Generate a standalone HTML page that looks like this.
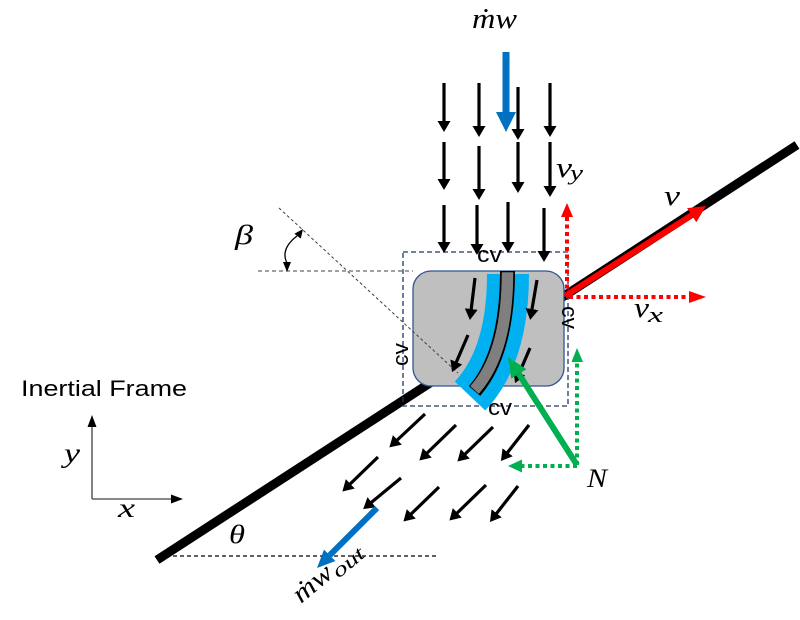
<!DOCTYPE html>
<html>
<head>
<meta charset="utf-8">
<style>
  html, body { margin: 0; padding: 0; background: #ffffff; }
  svg { display: block; }
  .m { font-family: "Liberation Serif", "DejaVu Serif", serif; font-style: italic; fill: #000; }
  .s { font-family: "Liberation Sans", "DejaVu Sans", sans-serif; fill: #000; }
</style>
</head>
<body>
<svg width="800" height="620" viewBox="0 0 800 620" xmlns="http://www.w3.org/2000/svg">
  <defs>
    <marker id="ah" markerUnits="userSpaceOnUse" markerWidth="12" markerHeight="14" refX="6" refY="6.5" orient="auto">
      <path d="M0,0 L11,6.5 L0,13 z" fill="#000"/>
    </marker>
  </defs>

  <!-- incline line -->
  <line x1="157" y1="560" x2="797" y2="145" stroke="#000" stroke-width="9"/>

  <!-- CV dashed box -->
  <rect x="403" y="252" width="165" height="154" fill="none" stroke="#203864" stroke-width="1.3" stroke-dasharray="5 3"/>

  <!-- gray box -->
  <rect x="413" y="271" width="151" height="115" rx="18" ry="18" fill="#bfbfbf" stroke="#2f5597" stroke-width="1.3"/>

  <!-- reference dashed lines -->
  <line x1="258" y1="271" x2="413" y2="271" stroke="#404040" stroke-width="1" stroke-dasharray="4 3"/>
  <line x1="279" y1="208" x2="458" y2="373" stroke="#404040" stroke-width="1" stroke-dasharray="3 2.5"/>
  <line x1="173" y1="556" x2="437" y2="556" stroke="#000" stroke-width="1.2" stroke-dasharray="4 3"/>

  <!-- beta arc -->
  <path d="M297,236 Q280,249 287,263" fill="none" stroke="#000" stroke-width="1.3"/>
  <polygon points="283,262 291,262 287,272" fill="#000"/>
  <polygon points="303,229 300.8,238.6 294.4,233.8" fill="#000"/>

  <!-- blue band and gray strip -->
  <path d="M508,274 Q508,356 470,396" fill="none" stroke="#00b0f0" stroke-width="42"/>
  <path d="M507.5,271 Q507.5,353 474.5,391" fill="none" stroke="#000" stroke-width="15"/>
  <path d="M507.5,272.2 Q507.5,353 474.5,390" fill="none" stroke="#7f7f7f" stroke-width="11.5"/>

  <!-- vertical incoming arrows -->
  <g stroke="#000" stroke-width="3.2" marker-end="url(#ah)">
    <line x1="444" y1="83" x2="444" y2="127"/>
    <line x1="479" y1="83" x2="479" y2="132"/>
    <line x1="518" y1="87" x2="518" y2="135"/>
    <line x1="550" y1="83" x2="550" y2="132"/>
    <line x1="444" y1="142" x2="444" y2="185"/>
    <line x1="479" y1="146" x2="479" y2="195"/>
    <line x1="518" y1="142" x2="518" y2="188"/>
    <line x1="550" y1="142" x2="550" y2="192"/>
    <line x1="444" y1="205" x2="444" y2="248"/>
    <line x1="477" y1="205" x2="477" y2="250"/>
    <line x1="508" y1="202" x2="508" y2="248"/>
    <line x1="544" y1="208" x2="544" y2="257"/>
    <!-- inner arrows -->
    <line x1="475" y1="278" x2="470.5" y2="315"/>
    <line x1="468" y1="335" x2="454" y2="367.5"/>
    <line x1="537" y1="280" x2="531" y2="315"/>
    <line x1="530" y1="348" x2="517" y2="378.5"/>
    <!-- outflow arrows -->
    <line x1="425" y1="414" x2="393" y2="444"/>
    <line x1="456" y1="425" x2="423" y2="457"/>
    <line x1="493" y1="427" x2="461" y2="458"/>
    <line x1="529" y1="425" x2="504" y2="457"/>
    <line x1="378" y1="457" x2="346" y2="488"/>
    <line x1="401" y1="478" x2="367" y2="506"/>
    <line x1="439" y1="487" x2="407" y2="518"/>
    <line x1="486" y1="485" x2="453" y2="517"/>
    <line x1="518" y1="486" x2="493" y2="518"/>
  </g>

  <!-- big blue inflow arrow -->
  <rect x="502.5" y="52" width="7" height="61" fill="#0070c0"/>
  <polygon points="496,112 516,112 506,132" fill="#0070c0"/>

  <!-- blue outflow arrow -->
  <line x1="377" y1="508" x2="329.7" y2="555.3" stroke="#0070c0" stroke-width="6"/>
  <polygon points="335.4,561 324,549.6 317,568" fill="#0070c0"/>

  <!-- red dotted components -->
  <line x1="567" y1="296" x2="567" y2="216" stroke="#ff0000" stroke-width="4" stroke-dasharray="4 3.5"/>
  <polygon points="561,217 573,217 567,203" fill="#ff0000"/>
  <line x1="569" y1="297" x2="690" y2="297" stroke="#ff0000" stroke-width="4" stroke-dasharray="4 3.5"/>
  <polygon points="689,291 689,303 706,297" fill="#ff0000"/>

  <!-- red velocity arrow -->
  <line x1="565" y1="296" x2="691.7" y2="215.2" stroke="#ff0000" stroke-width="6"/>
  <polygon points="696.3,222.3 687.1,208.1 706,206" fill="#ff0000"/>

  <!-- green dotted components -->
  <line x1="577" y1="465" x2="577" y2="361" stroke="#00b050" stroke-width="4" stroke-dasharray="4 3.5"/>
  <polygon points="571.5,362 583,362 577,348" fill="#00b050"/>
  <line x1="577" y1="466" x2="521" y2="466" stroke="#00b050" stroke-width="4" stroke-dasharray="4 3.5"/>
  <polygon points="522,459.5 522,472.5 508,466" fill="#00b050"/>

  <!-- green normal force -->
  <line x1="577" y1="465" x2="518.8" y2="373.9" stroke="#00b050" stroke-width="6"/>
  <polygon points="526.4,369.1 511.2,378.8 508,357" fill="#00b050"/>

  <!-- inertial frame axes -->
  <line x1="92" y1="499" x2="92" y2="425" stroke="#404040" stroke-width="1.3"/>
  <polygon points="87.5,427 96.5,427 92,415" fill="#000"/>
  <line x1="92" y1="499" x2="172" y2="499" stroke="#404040" stroke-width="1.3"/>
  <polygon points="171,494.5 171,503.5 183,499" fill="#000"/>

  <!-- text labels -->
  <text class="s" x="21" y="396" font-size="22" textLength="166" lengthAdjust="spacingAndGlyphs">Inertial Frame</text>
  <text class="m" x="64" y="462" font-size="27" textLength="16" lengthAdjust="spacingAndGlyphs">y</text>
  <text class="m" x="118" y="517" font-size="27" textLength="17" lengthAdjust="spacingAndGlyphs">x</text>

  <text class="m" x="472" y="28" font-size="28" textLength="45" lengthAdjust="spacingAndGlyphs">ṁw</text>

  <text class="m" x="556" y="177" font-size="28" textLength="16" lengthAdjust="spacingAndGlyphs">v</text>
  <text class="m" x="570" y="180" font-size="22" textLength="13" lengthAdjust="spacingAndGlyphs">y</text>

  <text class="m" x="664" y="205" font-size="28" textLength="16" lengthAdjust="spacingAndGlyphs">v</text>

  <text class="m" x="634" y="317" font-size="28" textLength="15" lengthAdjust="spacingAndGlyphs">v</text>
  <text class="m" x="648" y="322" font-size="22" textLength="15" lengthAdjust="spacingAndGlyphs">x</text>

  <text class="m" x="587" y="487" font-size="26" textLength="20" lengthAdjust="spacingAndGlyphs">N</text>
  <text class="m" x="235" y="244" font-size="27" textLength="18" lengthAdjust="spacingAndGlyphs">β</text>
  <text class="m" x="229" y="543" font-size="26" textLength="16" lengthAdjust="spacingAndGlyphs">θ</text>

  <g transform="translate(301,604) rotate(-40)">
    <text class="m" x="0" y="0" font-size="27" textLength="44" lengthAdjust="spacingAndGlyphs">ṁw</text>
    <text class="m" x="45" y="5" font-size="20" textLength="36" lengthAdjust="spacingAndGlyphs">out</text>
  </g>

  <!-- CV labels -->
  <text class="s" x="477" y="262" font-size="22" textLength="25" lengthAdjust="spacingAndGlyphs">cv</text>
  <text class="s" x="488" y="415" font-size="22" textLength="24" lengthAdjust="spacingAndGlyphs">cv</text>
  <text class="s" font-size="22" textLength="23" lengthAdjust="spacingAndGlyphs" transform="translate(408,366) rotate(-90)">cv</text>
  <text class="s" font-size="22" textLength="23" lengthAdjust="spacingAndGlyphs" transform="translate(562,306) rotate(90)">cv</text>
</svg>
</body>
</html>
